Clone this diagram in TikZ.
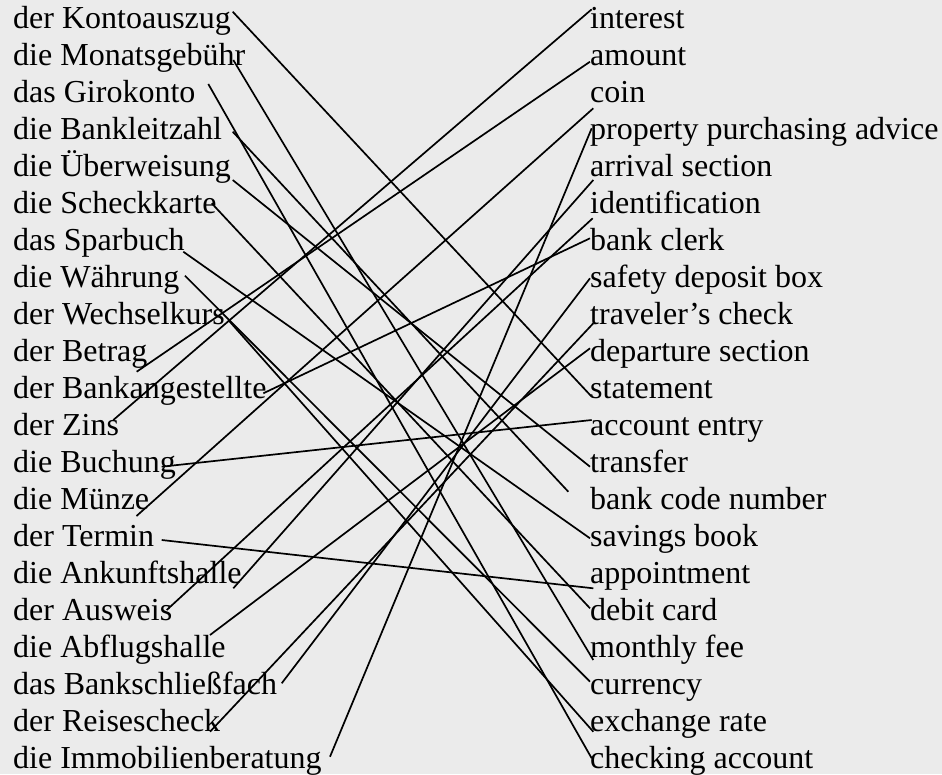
\documentclass[tikz,border=0pt]{standalone}
\usepackage{fontspec}
\setmainfont{Liberation Serif}
\definecolor{bgray}{HTML}{EBEBEB}
\begin{document}
\begin{tikzpicture}[x=1pt,y=-1pt,
  word/.style={anchor=base west, inner sep=0pt, font=\fontsize{32}{37}\selectfont},
  link/.style={line width=1.7pt, draw=black}]
\fill[bgray] (0,0) rectangle (942,774);
\useasboundingbox (0,0) rectangle (942,774);
% left column
\foreach \i/\t in {1/der Kontoauszug, 2/die Monatsgebühr, 3/das Girokonto, 4/die Bankleitzahl,
  5/die Überweisung, 6/die Scheckkarte, 7/das Sparbuch, 8/die Währung, 9/der Wechselkurs,
  10/der Betrag, 11/der Bankangestellte, 12/der Zins, 13/die Buchung, 14/die Münze,
  15/der Termin, 16/die Ankunftshalle, 17/der Ausweis, 18/die Abflugshalle,
  19/das Bankschließfach, 20/der Reisescheck, 21/die Immobilienberatung}
  \node[word] (L\i) at (13,{28.3+(\i-1)*37}) {\t};
% right column
\foreach \i/\t in {1/interest, 2/amount, 3/coin, 4/property purchasing advice, 5/arrival section,
  6/identification, 7/bank clerk, 8/safety deposit box, 9/traveler’s check, 10/departure section,
  11/statement, 12/account entry, 13/transfer, 14/bank code number, 15/savings book,
  16/appointment, 17/debit card, 18/monthly fee, 19/currency, 20/exchange rate, 21/checking account}
  \node[word] (R\i) at (590,{28.3+(\i-1)*37}) {\t};
% line end points, left side
\coordinate (a1) at (232.7,11.7);
\coordinate (a2) at (233.3,60);
\coordinate (a3) at (208.3,84);
\coordinate (a4) at (232.7,131.7);
\coordinate (a5) at (232.7,180);
\coordinate (a6) at (211.7,203.3);
\coordinate (a7) at (183.3,251.7);
\coordinate (a8) at (185,275.7);
\coordinate (a9) at (228.3,320);
\coordinate (a10) at (136.7,371.7);
\coordinate (a11) at (263.3,393.3);
\coordinate (a12) at (113.3,420);
\coordinate (a13) at (161.7,466.7);
\coordinate (a14) at (136.5,516);
\coordinate (a15) at (161.7,540);
\coordinate (a16) at (233.3,588.3);
\coordinate (a17) at (166.7,610);
\coordinate (a18) at (210,635);
\coordinate (a19) at (281.7,683.3);
\coordinate (a20) at (210,731.7);
\coordinate (a21) at (330,756.7);
% line end points, right side
\coordinate (b1) at (591.7,9.3);
\coordinate (b2) at (590,61.7);
\coordinate (b3) at (593.3,108.3);
\coordinate (b4) at (591.7,128.3);
\coordinate (b5) at (593.3,180);
\coordinate (b6) at (592.7,218.3);
\coordinate (b7) at (590,238.3);
\coordinate (b8) at (590,278.3);
\coordinate (b9) at (593.3,323.3);
\coordinate (b10) at (590,348.3);
\coordinate (b11) at (591.7,396.7);
\coordinate (b12) at (591.7,420);
\coordinate (b13) at (590,466.7);
\coordinate (b14) at (568.3,491.7);
\coordinate (b15) at (590,538.3);
\coordinate (b16) at (593.3,588.3);
\coordinate (b17) at (590,608.3);
\coordinate (b18) at (593.3,660);
\coordinate (b19) at (590,681.7);
\coordinate (b20) at (593.3,731.7);
\coordinate (b21) at (591.7,758.3);
% connectors
\draw[link] (a1) -- (b11);
\draw[link] (a2) -- (b18);
\draw[link] (a3) -- (b21);
\draw[link] (a4) -- (b14);
\draw[link] (a5) -- (b13);
\draw[link] (a6) -- (b17);
\draw[link] (a7) -- (b15);
\draw[link] (a8) -- (b19);
\draw[link] (a9) -- (b20);
\draw[link] (a10) -- (b2);
\draw[link] (a11) -- (b7);
\draw[link] (a12) -- (b1);
\draw[link] (a13) -- (b12);
\draw[link] (a14) -- (b3);
\draw[link] (a15) -- (b16);
\draw[link] (a16) -- (b5);
\draw[link] (a17) -- (b6);
\draw[link] (a18) -- (b10);
\draw[link] (a19) -- (b8);
\draw[link] (a20) -- (b9);
\draw[link] (a21) -- (b4);
\end{tikzpicture}
\end{document}
